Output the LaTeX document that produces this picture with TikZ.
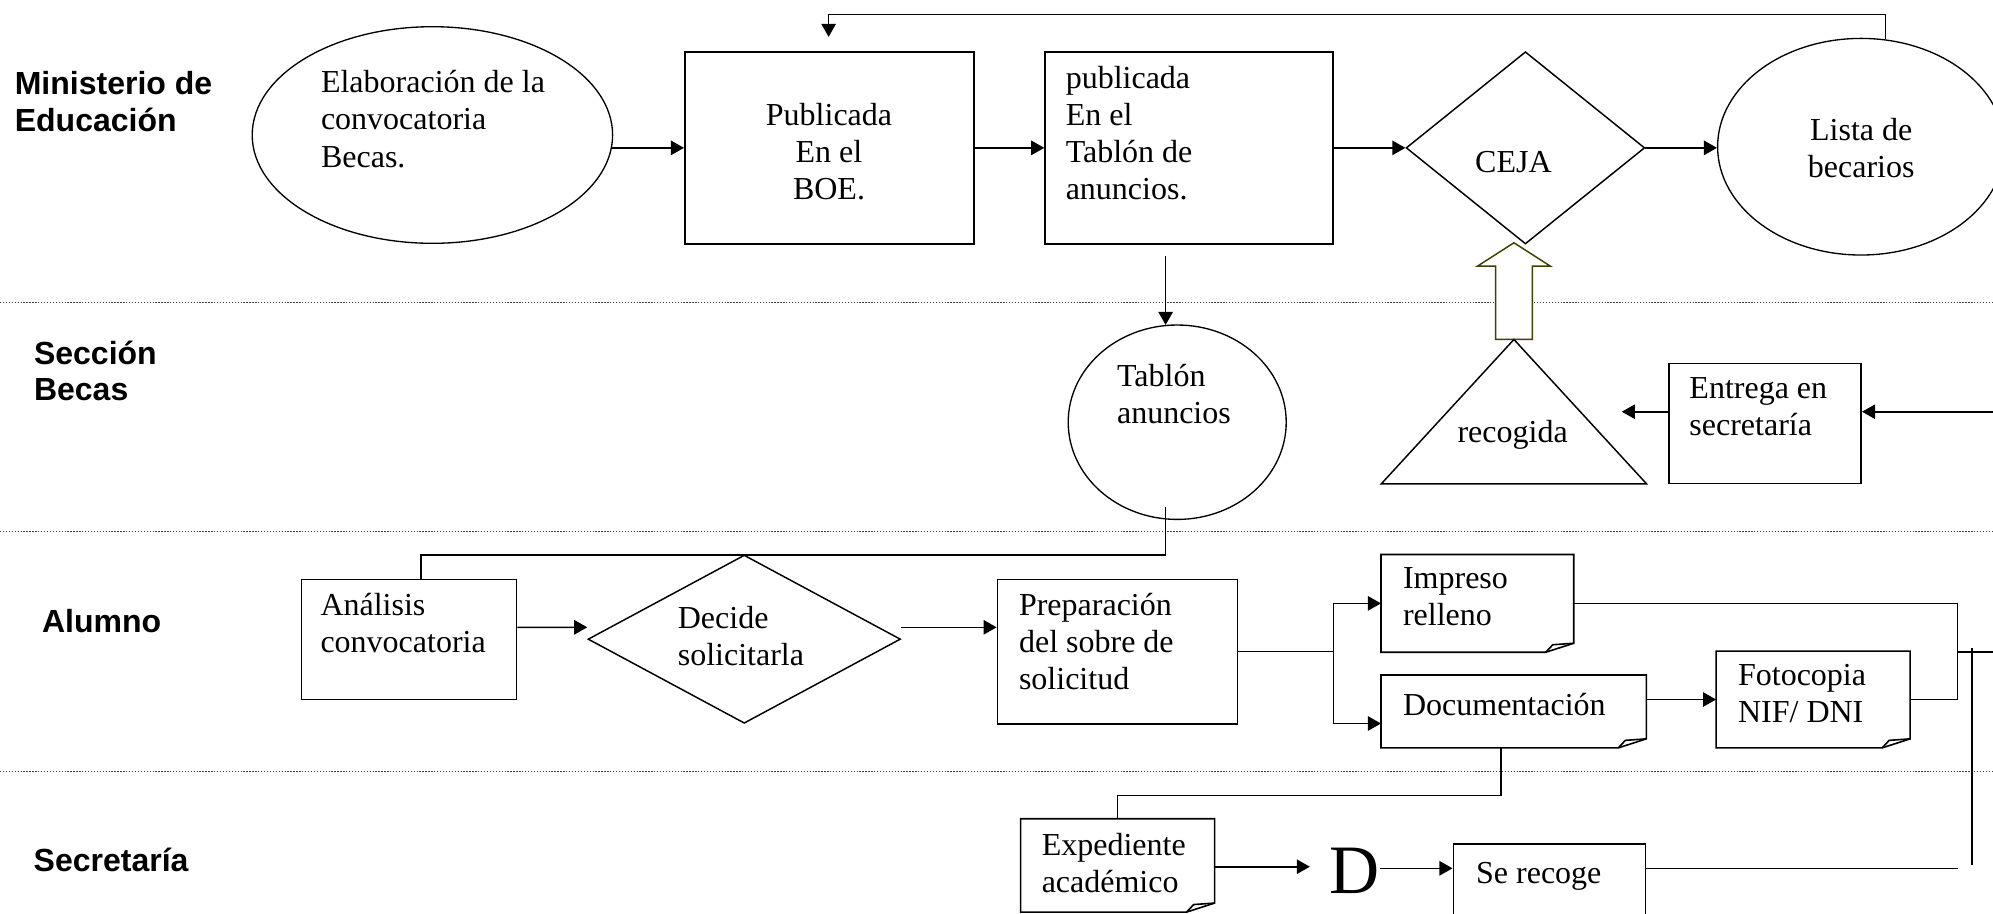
\documentclass[tikz,border=0pt]{standalone}
\usepackage{fontspec}
\setmainfont{Liberation Serif}
\newfontfamily\lanefont{Liberation Sans}
\usetikzlibrary{shapes.geometric,arrows.meta,calc}
\definecolor{olivebr}{RGB}{64,64,0}
\newcommand\docoutline[1]{%
  \draw[ln] (#1.south west) -- (#1.north west) -- (#1.north east) -- ($(#1.south east)+(0,-9)$) -- ($(#1.south east)+(-28,0)$) -- cycle;
  \draw[ln,line join=round] ($(#1.south east)+(-28,0)$) -- ($(#1.south east)+(-21,-7.5)$) -- ($(#1.south east)+(0,-9)$);}
\begin{document}
\begin{tikzpicture}[x=0.375pt,y=-0.375pt,
  ln/.style={line width=0.6pt},
  arr/.style={ln,-{Triangle[length=4.9pt,width=5.4pt]}},
  rbox/.style={draw,ln,rectangle,inner sep=0pt},
  dbox/.style={rectangle,inner sep=0pt},
  oval/.style={draw,line width=0.5pt,ellipse,inner sep=0pt},
  dia/.style={draw,line width=0.55pt,diamond,inner sep=0pt},
  txt/.style={inner sep=0pt,anchor=north west,align=left,font=\fontsize{12}{13.9}\selectfont,execute at begin node=\strut},
  ctxt/.style={txt,anchor=north,align=center},
  lane/.style={inner sep=0pt,anchor=north west,align=left,font=\lanefont\bfseries\fontsize{12}{13.75}\selectfont,execute at begin node=\strut},
  sep/.style={line width=0.45pt,black!75,dash pattern=on 0.5pt off 0.6pt},
  blockarrow/.style={draw=olivebr,fill=white,line width=0.55pt}
]
\useasboundingbox (0,0) rectangle (1993,913);
\clip (0,0) rectangle (1993,913);

% lane separators
\draw[sep] (0,302.7) -- (1993,302.7);
\draw[sep] (0,531.7) -- (1993,531.7);
\draw[sep] (0,771.7) -- (1993,771.7);

% lane labels
\node[lane] (lblMin) at (14.3,71) {Ministerio de\\Educación};
\node[lane] (lblSec) at (33.5,340.3) {Sección\\Becas};
\node[lane] (lblAlu) at (41.5,606) {Alumno};
\node[lane] (lblSecr) at (33.2,845) {Secretaría};

% lane 1 shapes
\node[oval,minimum width=135.15pt,minimum height=81.23pt] (elab) at (432.4,135) {};
\node[rbox,minimum width=108.34pt,minimum height=72.11pt] (boe) at (829.25,147.85) {};
\node[rbox,minimum width=107.96pt,minimum height=72.11pt] (tab) at (1189,147.85) {};
\node[dia,minimum width=89.48pt,minimum height=72.11pt] (ceja) at (1525.4,147.85) {};
\node[oval,minimum width=107.55pt,minimum height=81.23pt] (lista) at (1861,146.7) {};

\node[txt] (elabT) at (320.5,70.1) {Elaboración de la\\convocatoria\\Becas.};
\node[ctxt] (boeT) at (829,102.4) {Publicada\\En el\\BOE.};
\node[txt] (tabT) at (1065.2,65.8) {publicada\\En el\\Tablón de\\anuncios.};
\node[ctxt] (cejaT) at (1513.4,145.8) {CEJA};
\node[ctxt] (listaT) at (1861.2,118.1) {Lista de\\becarios};

% lane 2 shapes
\node[oval,minimum width=81.75pt,minimum height=72.9pt] (tabl) at (1177.2,422.2) {};
\node[dbox,minimum width=99.08pt,minimum height=53.74pt] (recog) at (1513.9,411.65) {};
\node[rbox,minimum width=72.08pt,minimum height=45pt] (entr) at (1765.1,423.3) {};

\node[txt] (tablT) at (1116.5,364.1) {Tablón\\anuncios};
\node[txt] (entrT) at (1688.9,377.4) {Entrega en\\secretaría};

% lane 3 shapes
\node[rbox,minimum width=80.74pt,minimum height=45pt] (ana) at (408.95,639.3) {};
\node[dia,minimum width=117.19pt,minimum height=63.11pt] (dec) at (744.25,639.15) {};
\node[rbox,minimum width=90pt,minimum height=54.26pt] (prep) at (1117.4,651.65) {};
\node[dbox,minimum width=71.89pt,minimum height=36.26pt] (imp) at (1477.35,603.35) {};
\node[dbox,minimum width=99.11pt,minimum height=26.93pt] (doc) at (1513.65,711.4) {};
\node[dbox,minimum width=72.38pt,minimum height=35.85pt] (foto) at (1813.1,699.5) {};
\docoutline{imp}
\docoutline{doc}
\docoutline{foto}

\node[txt] (anaT) at (320,592.4) {Análisis\\convocatoria};
\node[txt] (decT) at (677.3,605.8) {Decide\\solicitarla};
\node[txt] (prepT) at (1018.5,592.4) {Preparación\\del sobre de\\solicitud};
\node[txt] (impT) at (1402.5,567.4) {Impreso\\relleno};
\node[txt] (docT) at (1402.5,689.1) {Documentación};
\node[txt] (fotoT) at (1737.5,664.1) {Fotocopia\\NIF/ DNI};

% lane 4 shapes
\node[dbox,minimum width=72.34pt,minimum height=34.58pt] (exp) at (1117.65,865.4) {};
\docoutline{exp}
\node[rbox,minimum width=72.11pt,minimum height=32.25pt] (serec) at (1549.45,887) {};
\node[inner sep=0pt,anchor=base west,font=\fontsize{26}{30}\selectfont] (dnode) at (1328.7,893.3) {D};

\node[txt] (expT) at (1041.2,832.4) {Expediente\\académico};
\node[txt] (serecT) at (1475.6,857.4) {Se recoge};

% block arrow recogida -> CEJA
\draw[blockarrow] ($(recog.north)+(-18.4,0)$) -- ++(0,-73.3) -- ++(-18.1,0) -- ($(recog.north)+(0,-96.7)$) -- ($(recog.north)+(36.5,-73.3)$) -- ++(-18.1,0) -- ($(recog.north)+(18.4,0)$) -- cycle;
\draw[line width=0.55pt] (recog.south west) -- (recog.north) -- (recog.south east) -- cycle;
\node[ctxt] (recogT) at (1512.6,415.8) {recogida};

% coordinates for free ends
\coordinate (fbk) at (1885.5,14.3);
\coordinate (inR) at (1993,411.7);
\coordinate (spl) at (1333.5,651.65);
\coordinate (jx) at (1957.5,651.7);
\coordinate (outR) at (1993,651.7);
\coordinate (vT) at (1971.7,648.3);
\coordinate (vB) at (1971.7,865);
\coordinate (sEnd) at (1958.4,868.3);

% connectors lane 1
\draw[arr] ($(elab.east)+(-1,12.85)$) -- (boe.west);
\draw[arr] (boe.east) -- (tab.west);
\draw[arr] (tab.east) -- (ceja.west);
\draw[arr] (ceja.east) -- (ceja.east -| lista.west);
\draw[arr] ($(lista.north)+(24.5,1.6)$) -- (fbk) -| ($(boe.north)+(-0.65,-14)$);
\draw[arr] ($(tab.south)+(-23.4,11)$) -- ($(tabl.north)+(-11.6,0.6)$);

% lane 2
\draw[arr] ($(entr.west)+(0,-11.6)$) -- ++(-46.4,0);
\draw[arr] (inR) -- (inR -| entr.east);
\draw[ln] ($(tabl.south)+(-11.6,-12.6)$) |- ($(ana.north)+(12,-23.6)$) -- ($(ana.north)+(12,0)$);

% lane 3
\draw[arr] ($(ana.east)+(0,-12)$) -- ($(dec.west)+(0,-11.85)$);
\draw[arr] ($(dec.east)+(0,-11.85)$) -- ($(prep.west)+(0,-24.35)$);
\draw[ln] (prep.east) -- (spl);
\draw[arr] (spl) |- (imp.west);
\draw[arr] (spl) |- ($(doc.west)+(0,12.1)$);
\draw[arr] (foto.west -| doc.east) -- (foto.west);
\draw[ln] (imp.east) -| (jx) |- (foto.east);
\draw[ln] (jx) -- (outR);
\draw[ln] (vT) -- (vB);

% lane 4
\draw[ln] ($(doc.south)+(-12.75,0)$) |- ($(exp.north)+(0,-23.3)$) -- (exp.north);
\draw[arr] ($(exp.east)+(0,1.3)$) -- ++(95.2,0);
\draw[arr] (dnode.east |- sEnd) -- (serec.west |- sEnd);
\draw[ln] (serec.east |- sEnd) -- (sEnd);
\end{tikzpicture}
\end{document}
